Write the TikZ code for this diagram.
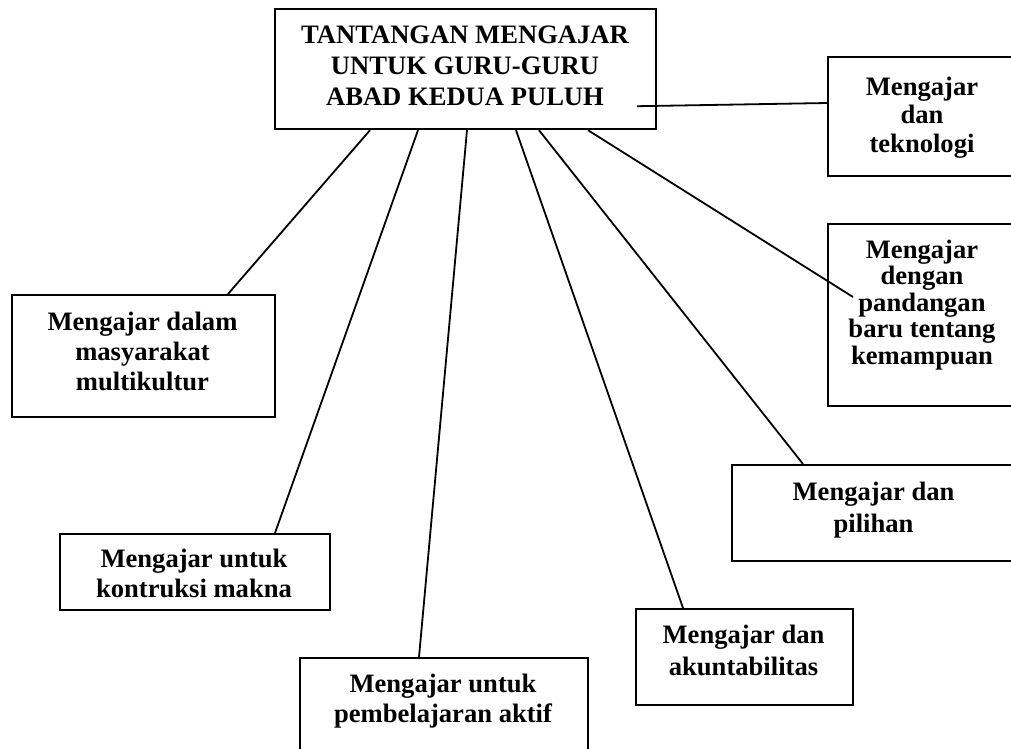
\documentclass[tikz,border=0pt]{standalone}
\usepackage{fontspec}
\setmainfont{Liberation Serif}
\begin{document}
\begin{tikzpicture}[x=1pt,y=-1pt,
  box/.style={draw, line width=2.2pt, inner sep=0pt, anchor=north west},
  lbl/.style={align=center, inner sep=0pt, anchor=north, font=\fontsize{26.6}{#1}\selectfont\bfseries},
  lbl/.default=31,
  link/.style={line width=1.8pt}]
\useasboundingbox (0,0) rectangle (1011,748);
\clip (0,0) rectangle (1011,748);
% boxes
\node[box, minimum width=381pt, minimum height=120pt] (main) at (274,8) {};
\node[box, minimum width=263pt, minimum height=122pt] (multi) at (11,294) {};
\node[box, minimum width=270pt, minimum height=76pt] (kontr) at (59,533) {};
\node[box, minimum width=288pt, minimum height=120pt] (aktif) at (299,657) {};
\node[box, minimum width=217pt, minimum height=96pt] (akunt) at (635,608) {};
\node[box, minimum width=285pt, minimum height=96pt] (pilih) at (731,464) {};
\node[box, minimum width=189pt, minimum height=119pt] (tekno) at (827,56) {};
\node[box, minimum width=189pt, minimum height=182pt] (kemam) at (827,223) {};
% texts
\node[lbl=31] (mainT) at (465,25.5) {TANTANGAN MENGAJAR\\UNTUK GURU-GURU\\ABAD KEDUA PULUH};
\node[lbl=30] (multiT) at (142.5,311.5) {Mengajar dalam\\masyarakat\\multikultur};
\node[lbl=30] (kontrT) at (194,548.5) {Mengajar untuk\\kontruksi makna};
\node[lbl=30] (aktifT) at (443,673.5) {Mengajar untuk\\pembelajaran aktif};
\node[lbl=32] (akuntT) at (743.5,624.5) {Mengajar dan\\akuntabilitas};
\node[lbl=32] (pilihT) at (873.5,481.5) {Mengajar dan\\pilihan};
\node[lbl=28.5] (teknoT) at (922,76.5) {Mengajar\\dan\\teknologi};
\node[lbl=26.5] (kemamT) at (922,239.5) {Mengajar\\dengan\\pandangan\\baru tentang\\kemampuan};
% connectors
\draw[link] ([xshift=96pt]main.south west) -- ([xshift=217pt]multi.north west);
\draw[link] ([xshift=144pt]main.south west) -- ([xshift=216pt]kontr.north west);
\draw[link] ([xshift=193pt]main.south west) -- ([xshift=120pt]aktif.north west);
\draw[link] ([xshift=242pt]main.south west) -- ([xshift=48pt]akunt.north west);
\draw[link] ([xshift=265pt]main.south west) -- ([xshift=72pt]pilih.north west);
\draw[link] ([xshift=314pt]main.south west) -- ([xshift=26pt,yshift=-74pt]kemam.north west);
\draw[link] ([xshift=-20pt,yshift=24pt]main.south east) -- ([yshift=-47pt]tekno.north west);
\end{tikzpicture}
\end{document}
